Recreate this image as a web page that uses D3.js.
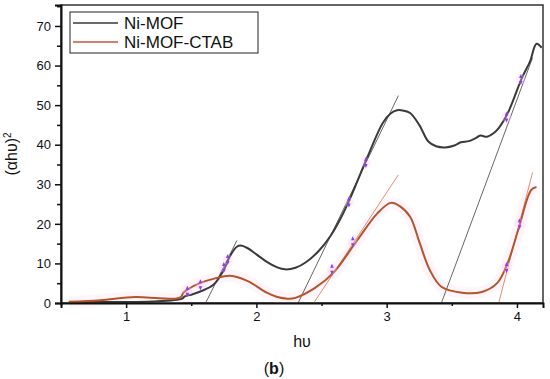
<!DOCTYPE html>
<html>
<head>
    <meta charset="utf-8">
    <script src="https://d3js.org/d3.v7.min.js"></script>
    <style>
        body { margin: 0; background: #fff; }
        text { font-family: Arial, "Liberation Sans", sans-serif; fill: #111; }
    </style>
</head>
<body>
    <svg width="550" height="379"></svg>

    <script>
        // values
        var hvBlack  = [0.56, 0.9, 1.2, 1.43, 1.45, 1.5, 1.57, 1.67, 1.75, 1.80, 1.85, 1.88, 1.93, 2.00, 2.08, 2.16, 2.22, 2.30, 2.38, 2.48, 2.57, 2.65, 2.72, 2.85, 2.97, 3.03, 3.08, 3.13, 3.18, 3.25, 3.32, 3.38, 3.45, 3.52, 3.57, 3.63, 3.68, 3.72, 3.77, 3.82, 3.86, 3.93, 4.04, 4.10, 4.15, 4.19];
        var ahvBlack = [0.2, 0.25, 0.35, 1.1, 1.7, 2.1, 2.9, 4.6, 8.4, 12.0, 14.2, 14.5, 13.9, 12.3, 10.4, 9.0, 8.5, 8.9, 10.3, 13.2, 17.0, 21.6, 26.5, 36.7, 45.5, 47.9, 48.7, 48.6, 48.0, 45.0, 40.8, 39.6, 39.3, 39.8, 40.6, 40.9, 41.6, 42.3, 42.0, 42.9, 44.2, 48.0, 57.0, 61.0, 65.5, 64.5];

        var hvRed  = [0.56, 0.8, 1.07, 1.25, 1.38, 1.42, 1.44, 1.47, 1.57, 1.67, 1.80, 1.93, 2.08, 2.16, 2.24, 2.30, 2.45, 2.59, 2.76, 2.93, 3.03, 3.10, 3.18, 3.25, 3.33, 3.42, 3.58, 3.73, 3.85, 3.93, 4.01, 4.11, 4.15];
        var ahvRed = [0.3, 0.7, 1.5, 1.2, 1.1, 1.5, 2.6, 3.4, 5.1, 6.1, 6.9, 5.6, 2.6, 1.5, 1.1, 1.3, 3.8, 7.6, 15.2, 22.7, 25.3, 24.5, 21.8, 15.5, 8.4, 4.1, 2.6, 2.8, 5.1, 10.2, 18.5, 28.6, 29.3];

        // tangent (band gap) lines: [x0, x1], [y0, y1]
        var fitBlack = [
            { x: [1.61, 1.85], y: [0, 15.8] },
            { x: [2.32, 3.09], y: [0, 52.4] },
            { x: [3.42, 4.12], y: [0, 62.0] }
        ];
        var fitRed = [
            { x: [2.44, 3.09], y: [0, 32.4] },
            { x: [3.86, 4.12], y: [0, 33.0] }
        ];

        // purple picked-point markers
        var markX = [1.47, 1.57, 1.75, 1.78, 2.71, 2.84, 2.58, 2.74, 3.92, 4.03, 3.92, 4.02];
        var markY = [3.0, 4.6, 9.0, 11.0, 25.5, 35.5, 8.5, 15.5, 47.0, 56.5, 9.0, 20.0];

        var xTicks = [1, 2, 3, 4];
        var yTicks = [0, 10, 20, 30, 40, 50, 60, 70];
        var seriesNames = ["Ni-MOF", "Ni-MOF-CTAB"];

        var svg = d3.select("svg");
        var margin = { left: 61, right: 7, top: 5, bottom: 76 };
        var width = 550 - margin.left - margin.right,
            height = 379 - margin.top - margin.bottom;

        var x = d3.scaleLinear().domain([0.5, 4.2]).range([0, width]);
        var y = d3.scaleLinear().domain([0, 75.3]).range([height, 0]);

        var g = svg.append("g").attr("transform", "translate(" + margin.left + "," + margin.top + ")");

        // frame (top / right)
        g.append("rect")
            .attr("x", 0).attr("y", 0)
            .attr("width", width).attr("height", height)
            .attr("fill", "none").attr("stroke", "#333").attr("stroke-width", 1.5);

        var line = d3.line()
            .x(function(d) { return x(d[0]); })
            .y(function(d) { return y(d[1]); })
            .curve(d3.curveCatmullRom.alpha(0.5));

        var black = d3.zip(hvBlack, ahvBlack);
        var red = d3.zip(hvRed, ahvRed);

        // pale pink halo under the red curve
        g.append("path").datum(red)
            .attr("d", line)
            .attr("fill", "none").attr("stroke", "#fbd9ef").attr("stroke-width", 12)
            .attr("stroke-opacity", 0.25);

        // tangent lines
        fitBlack.forEach(function(f) {
            g.append("line")
                .attr("x1", x(f.x[0])).attr("y1", y(f.y[0]))
                .attr("x2", x(f.x[1])).attr("y2", y(f.y[1]))
                .attr("stroke", "#555").attr("stroke-width", 0.9);
        });
        fitRed.forEach(function(f) {
            g.append("line")
                .attr("x1", x(f.x[0])).attr("y1", y(f.y[0]))
                .attr("x2", x(f.x[1])).attr("y2", y(f.y[1]))
                .attr("stroke", "#d9826a").attr("stroke-width", 0.9);
        });

        g.append("path").datum(black)
            .attr("d", line)
            .attr("fill", "none").attr("stroke", "#3a3a3a").attr("stroke-width", 2);

        g.append("path").datum(red)
            .attr("d", line)
            .attr("fill", "none").attr("stroke", "#b4532c").attr("stroke-width", 2);

        // markers: small up / down arrow heads
        var marks = g.selectAll(".mark")
            .data(d3.zip(markX, markY))
            .enter().append("g")
            .attr("class", "mark")
            .attr("transform", function(d) { return "translate(" + x(d[0]) + "," + y(d[1]) + ")"; });
        marks.append("circle").attr("r", 5).attr("fill", "#f7c8ef").attr("opacity", 0.3);
        marks.append("path").attr("d", "M-1.8,-1.5 L0,-5.5 L1.8,-1.5 Z").attr("fill", "#8a3cf0");
        marks.append("path").attr("d", "M-1.8,1.5 L0,5.5 L1.8,1.5 Z").attr("fill", "#8a3cf0");

        // axes
        g.append("g").attr("transform", "translate(0," + height + ")")
            .call(d3.axisBottom(x).tickValues(xTicks).tickFormat(d3.format("d")).tickSize(5).tickPadding(4));
        g.append("g").attr("transform", "translate(0," + height + ")")
            .call(d3.axisBottom(x).tickValues([0.5, 1.5, 2.5, 3.5]).tickFormat("").tickSize(3))
            .select(".domain").remove();
        g.append("g")
            .call(d3.axisLeft(y).tickValues(yTicks).tickSize(6).tickPadding(4));
        g.append("g")
            .call(d3.axisLeft(y).tickValues([5, 15, 25, 35, 45, 55, 65, 75]).tickFormat("").tickSize(4))
            .select(".domain").remove();

        svg.selectAll(".domain").attr("stroke", "#111").attr("stroke-width", 2);
        svg.selectAll(".tick line").attr("stroke", "#111").attr("stroke-width", 1.5);
        svg.selectAll(".tick text").attr("font-size", 13).attr("fill", "#111")
            .style("font-family", "Arial, 'Liberation Sans', sans-serif");

        // axis titles
        svg.append("text")
            .attr("x", 302).attr("y", 347)
            .attr("text-anchor", "middle").attr("font-size", 16)
            .text("hυ");

        var yl = svg.append("text")
            .attr("transform", "translate(17,154) rotate(-90)")
            .attr("text-anchor", "middle").attr("font-size", 16);
        yl.append("tspan").text("(αhυ)");
        yl.append("tspan").attr("font-size", 10).attr("dy", -6).text("2");

        var lb = svg.append("text")
            .attr("x", 274).attr("y", 374)
            .attr("text-anchor", "middle").attr("font-size", 16);
        lb.append("tspan").text("(");
        lb.append("tspan").attr("font-weight", "bold").text("b");
        lb.append("tspan").text(")");

        // legend
        var legend = svg.append("g");
        legend.append("rect")
            .attr("x", 70).attr("y", 12).attr("width", 188).attr("height", 41)
            .attr("fill", "#fff").attr("stroke", "#222").attr("stroke-width", 1);
        var legendColors = ["#3a3a3a", "#c0563a"];
        seriesNames.forEach(function(name, i) {
            var ly = 23 + i * 19;
            legend.append("line")
                .attr("x1", 73).attr("x2", 118).attr("y1", ly).attr("y2", ly)
                .attr("stroke", legendColors[i]).attr("stroke-width", 1.5);
            legend.append("text")
                .attr("x", 124).attr("y", ly + 6)
                .attr("font-size", 17)
                .text(name);
        });
    </script>
</body>
</html>
